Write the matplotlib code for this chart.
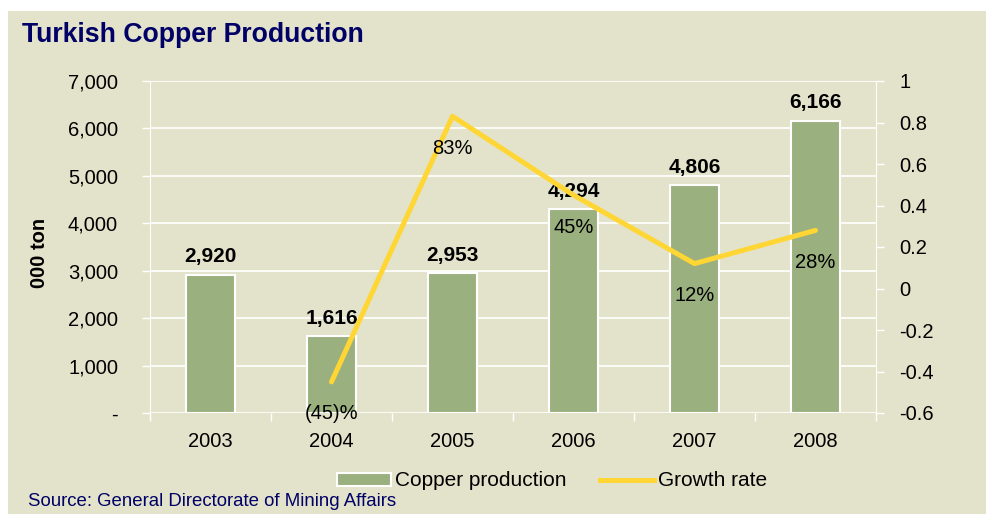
import matplotlib.pyplot as plt
import matplotlib.patches as mpatches
from matplotlib.lines import Line2D
import numpy as np

plt.rcParams['font.family'] = ['Liberation Sans', 'DejaVu Sans']

years = ['2003', '2004', '2005', '2006', '2007', '2008']
production = [2920, 1616, 2953, 4294, 4806, 6166]
growth_years = ['2004', '2005', '2006', '2007', '2008']
growth = [-0.45, 0.83, 0.45, 0.12, 0.28]
growth_labels = ['(45)%', '83%', '45%', '12%', '28%']

bg = '#E3E3CB'
bar_color = '#9BB07F'
line_color = '#FFD633'
navy = '#000066'
fs = 14.5

fig = plt.figure(figsize=(9.87, 5.14), dpi=100)
fig.patch.set_facecolor('white')
fig.patches.append(mpatches.Rectangle((8 / 987, 0), 1, 1 - 11 / 514, transform=fig.transFigure,
                                      facecolor=bg, edgecolor='none', zorder=-10))

ax = fig.add_axes([150 / 987, 1 - 413 / 514, 726 / 987, 332 / 514])
ax.set_facecolor(bg)
x = np.arange(len(years))

ax.set_ylim(0, 7000)
ax.set_xlim(-0.5, 5.5)
yt = np.arange(0, 7001, 1000)
ax.set_yticks(yt)
ax.set_yticklabels(['-'] + [f'{v:,}' for v in yt[1:]], fontsize=fs)
ax.yaxis.grid(True, color='white', linewidth=1.2)
ax.set_axisbelow(True)
ax.tick_params(axis='y', colors='white', labelcolor='black', length=6, width=1, pad=17)

ax.bar(x, production, width=0.4, color=bar_color, edgecolor='white', linewidth=1.5, zorder=2)
for xi, v in zip(x, production):
    ax.annotate(f'{v:,}', (xi, v), xytext=(0, 6), textcoords='offset points',
                ha='center', va='bottom', fontsize=15, fontweight='bold', zorder=5)

ax.set_xticks(x)
ax.set_xticklabels(years, fontsize=fs)
ax.set_xticks(np.arange(-0.5, 5.6, 1), minor=True)
ax.tick_params(axis='x', which='major', length=0, pad=14)
ax.tick_params(axis='x', which='minor', colors='white', length=6, width=1)

for side in ['top', 'bottom']:
    ax.spines[side].set_visible(False)
ax.spines['left'].set_color('white')
ax.spines['right'].set_visible(False)
fig.text(40 / 987, 1 - 253 / 514, '000 ton', fontsize=fs, fontweight='bold', rotation=90,
         ha='center', va='center')

ax2 = ax.twinx()
ax2.set_ylim(-0.6, 1)
rt = np.round(np.arange(-0.6, 1.01, 0.2), 1)
ax2.set_yticks(rt)
ax2.set_yticklabels([('%g' % v) for v in rt], fontsize=fs)
ax2.tick_params(axis='y', colors='white', labelcolor='black', length=6, width=1, pad=11)
for side in ['top', 'bottom', 'left']:
    ax2.spines[side].set_visible(False)
ax2.spines['right'].set_color('white')

gx = [years.index(y) for y in growth_years]
ax2.plot(gx, growth, color=line_color, linewidth=3.6, solid_capstyle='round', zorder=3)
for xi, v, lab in zip(gx, growth, growth_labels):
    ax2.annotate(lab, (xi, v), xytext=(0, -23), textcoords='offset points',
                 ha='center', va='center', fontsize=fs)

fig.text(22 / 987, 1 - 35 / 514, 'Turkish Copper Production', fontsize=19.2, fontweight='bold',
         color=navy, va='center', ha='left')
fig.text(28 / 987, 1 - 501 / 514, 'Source: General Directorate of Mining Affairs', fontsize=13.4,
         color=navy, va='center', ha='left')

handles = [mpatches.Patch(facecolor=bar_color, edgecolor='white', linewidth=1.5),
           Line2D([0], [0], color=line_color, linewidth=3.6)]
fig.legend(handles, ['Copper production', 'Growth rate'], loc='center',
           bbox_to_anchor=(552 / 987, 1 - 481 / 514), ncol=2, frameon=False, fontsize=15,
           handlelength=2.6, handleheight=0.6, columnspacing=1.6, handletextpad=0.2)

fig.savefig('out.png', dpi=100, facecolor=fig.get_facecolor())
